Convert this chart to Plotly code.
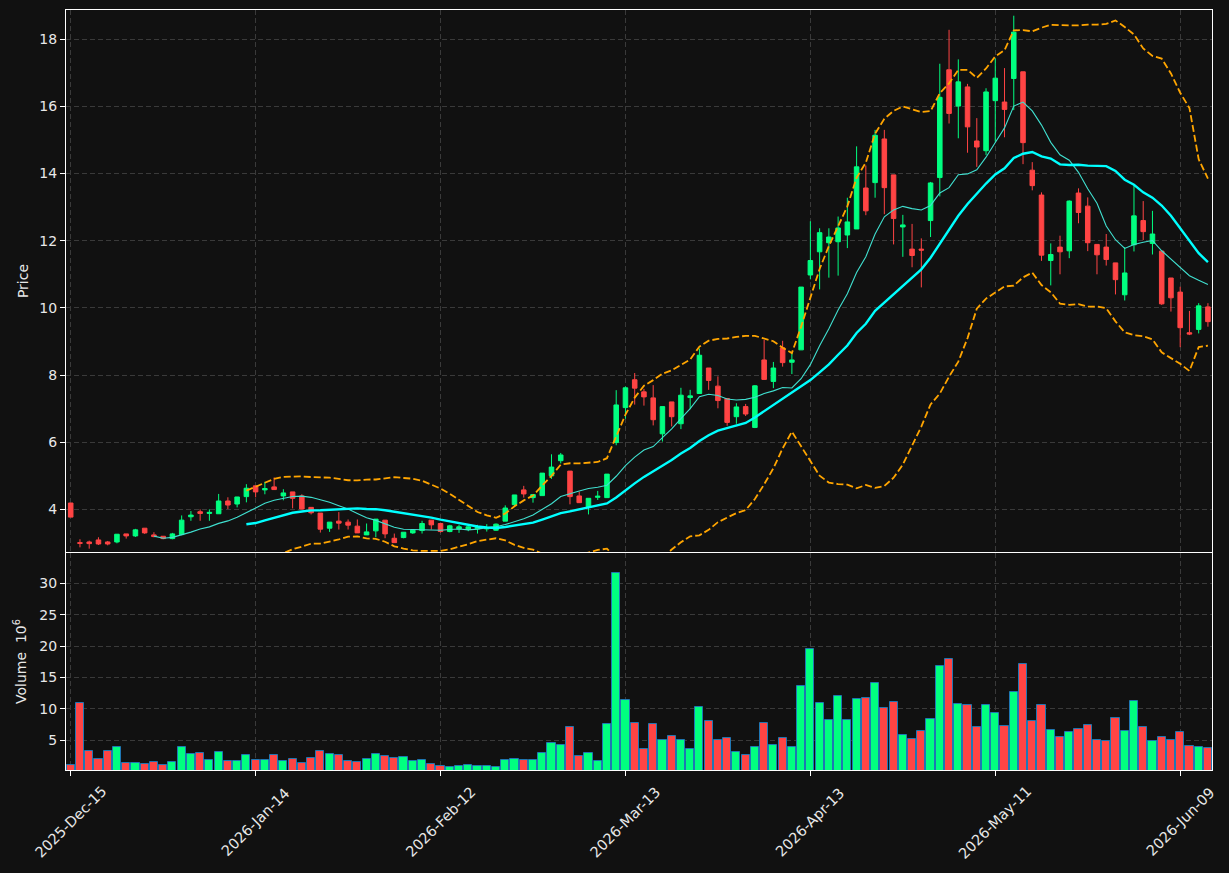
import plotly.graph_objects as go
from plotly.subplots import make_subplots
import pandas as pd

# ---- data ----
opens = [4.19, 3.01, 3.03, 3.09, 3.03, 3.03, 3.27, 3.21, 3.44, 3.24,
         3.20, 3.13, 3.25, 3.78, 3.93, 3.88, 3.87, 4.25, 4.16, 4.38,
         4.70, 4.58, 4.67, 4.40, 4.52, 4.40, 4.06, 3.89, 3.44, 3.65,
         3.62, 3.50, 3.24, 3.36, 3.68, 3.14, 3.16, 3.30, 3.37, 3.68,
         3.58, 3.34, 3.42, 3.40, 3.42, 3.42, 3.38, 3.65, 4.14, 4.58,
         4.35, 4.41, 5.00, 5.45, 5.14, 4.40, 4.08, 4.36, 4.35, 5.99,
         7.03, 7.86, 7.50, 7.32, 6.25, 7.20, 6.55, 7.33, 7.45, 8.21,
         7.67, 7.30, 6.76, 7.06, 6.44, 8.45, 7.81, 8.81, 8.38, 8.75,
         10.98, 11.67, 11.94, 11.97, 12.17, 12.35, 13.57, 13.73, 15.03, 13.96,
         12.41, 11.75, 11.75, 12.60, 13.88, 17.09, 16.01, 16.58, 14.97, 14.68,
         16.17, 16.13, 16.83, 17.03, 14.10, 13.36, 11.41, 11.81, 11.70, 13.42,
         13.03, 11.89, 11.81, 11.34, 10.39, 11.88, 12.60, 11.92, 11.69, 10.89,
         10.47, 9.26, 9.36, 10.03]
highs = [4.19, 3.11, 3.07, 3.17, 3.06, 3.26, 3.27, 3.42, 3.44, 3.32,
         3.20, 3.30, 3.82, 3.95, 4.00, 4.00, 4.46, 4.36, 4.37, 4.75,
         4.70, 4.82, 4.95, 4.60, 4.52, 4.45, 4.06, 3.89, 3.62, 3.92,
         3.70, 3.70, 3.58, 3.71, 3.68, 3.28, 3.32, 3.38, 3.66, 3.68,
         3.58, 3.54, 3.54, 3.56, 3.54, 3.56, 3.58, 4.12, 4.43, 4.70,
         4.44, 5.08, 5.64, 5.68, 5.14, 4.53, 4.33, 4.55, 5.05, 7.55,
         7.66, 8.06, 7.59, 7.70, 7.06, 7.20, 7.62, 7.56, 8.79, 8.21,
         7.96, 7.30, 7.16, 7.14, 7.70, 9.05, 8.39, 9.02, 8.67, 10.62,
         12.58, 12.37, 12.37, 12.72, 13.28, 14.81, 14.24, 15.30, 15.30, 13.96,
         12.77, 12.50, 12.07, 13.75, 17.27, 18.28, 17.40, 16.67, 15.65, 16.54,
         17.43, 17.14, 18.70, 17.03, 14.34, 13.44, 11.92, 12.15, 13.20, 13.56,
         13.29, 11.89, 12.20, 11.34, 11.81, 13.65, 13.18, 12.89, 11.69, 10.89,
         10.63, 9.91, 10.14, 10.14]
lows = [3.77, 2.87, 2.83, 2.94, 2.93, 2.99, 3.13, 3.18, 3.27, 3.17,
        3.11, 3.11, 3.23, 3.66, 3.66, 3.66, 3.87, 4.01, 4.06, 4.21,
        4.36, 4.45, 4.59, 4.27, 4.03, 4.00, 3.85, 3.31, 3.33, 3.40,
        3.40, 3.30, 3.24, 3.17, 3.14, 3.01, 3.14, 3.27, 3.28, 3.40,
        3.31, 3.32, 3.30, 3.35, 3.28, 3.34, 3.36, 3.65, 4.08, 4.35,
        4.20, 4.41, 4.91, 5.37, 4.15, 4.20, 3.85, 4.28, 4.35, 5.91,
        6.70, 7.12, 7.09, 6.50, 6.02, 6.47, 6.39, 6.98, 7.45, 7.56,
        7.01, 6.49, 6.55, 6.78, 6.42, 7.87, 7.61, 8.25, 8.03, 8.75,
        10.85, 10.55, 10.90, 10.96, 11.78, 12.35, 12.76, 13.28, 12.79, 11.89,
        11.52, 11.21, 10.61, 12.11, 13.32, 15.49, 15.05, 14.62, 14.20, 14.55,
        14.95, 15.08, 15.89, 14.28, 13.50, 11.40, 10.67, 11.00, 11.48, 12.52,
        11.69, 11.00, 11.26, 10.40, 10.22, 11.68, 12.02, 11.59, 10.09, 9.89,
        8.83, 9.19, 9.24, 9.44]
closes = [3.77, 2.99, 2.98, 2.97, 2.97, 3.26, 3.21, 3.39, 3.30, 3.19,
          3.13, 3.27, 3.68, 3.83, 3.88, 3.91, 4.25, 4.13, 4.37, 4.63,
          4.52, 4.62, 4.59, 4.49, 4.33, 4.01, 3.90, 3.41, 3.62, 3.59,
          3.53, 3.30, 3.33, 3.71, 3.27, 3.01, 3.32, 3.38, 3.58, 3.54,
          3.34, 3.51, 3.48, 3.48, 3.48, 3.46, 3.56, 4.04, 4.43, 4.46,
          4.44, 5.08, 5.26, 5.62, 4.38, 4.20, 4.33, 4.39, 5.05, 7.11,
          7.62, 7.61, 7.35, 6.67, 7.06, 6.76, 7.40, 7.38, 8.59, 7.84,
          7.24, 6.59, 7.05, 6.84, 7.68, 7.87, 8.21, 8.37, 8.45, 10.62,
          11.41, 12.24, 12.11, 12.38, 12.56, 14.20, 12.89, 15.14, 13.58, 12.66,
          12.47, 11.56, 11.72, 13.72, 16.27, 15.79, 16.73, 15.39, 14.79, 16.43,
          16.84, 15.91, 18.21, 14.92, 13.64, 11.57, 11.59, 11.67, 13.18, 12.84,
          11.94, 11.58, 11.44, 10.84, 11.04, 12.74, 12.27, 12.20, 10.12, 10.30,
          9.41, 9.22, 10.06, 9.59]
volumes = [1.0, 11.0, 3.25, 1.97, 3.25, 3.98, 1.34, 1.34, 1.18, 1.5,
           1.0, 1.5, 3.98, 2.77, 2.93, 1.82, 3.09, 1.66, 1.66, 2.61,
           1.82, 1.82, 2.61, 1.66, 1.97, 1.34, 2.13, 3.25, 2.77, 2.61,
           1.66, 1.5, 1.97, 2.77, 2.45, 2.13, 2.29, 1.66, 1.82, 1.18,
           0.86, 0.70, 0.86, 1.0, 0.86, 0.86, 0.70, 1.82, 1.97, 1.82,
           1.82, 2.93, 4.57, 4.25, 7.07, 2.45, 2.93, 1.66, 7.55, 31.6,
           11.37, 7.7, 3.57, 7.55, 5.0, 5.64, 5.0, 3.57, 10.25, 8.03,
           5.0, 5.32, 3.09, 2.61, 3.89, 7.7, 4.2, 5.32, 3.89, 13.6,
           19.5, 10.9, 8.18, 12.0, 8.18, 11.5, 11.7, 14.2, 10.1, 11.05,
           5.8, 5.16, 6.43, 8.34, 16.8, 17.9, 10.73, 10.57, 7.07, 10.57,
           9.3, 7.23, 12.64, 17.1, 8.03, 10.57, 6.59, 5.48, 6.27, 6.75,
           7.39, 5.0, 4.84, 8.5, 6.43, 11.2, 7.07, 4.84, 5.48, 5.0,
           6.27, 4.04, 3.89, 3.73]
tick_index = [0, 20, 40, 60, 80, 100, 120]
tick_labels = ["2025-Dec-15", "2026-Jan-14", "2026-Feb-12", "2026-Mar-13",
               "2026-Apr-13", "2026-May-11", "2026-Jun-09"]

# ---- style ----
BG = "#111111"
GREEN = "#00ff80"
RED = "#ff4444"
GRID = "#3a3a3a"
TXT = "#e8e8e8"
FONT = "DejaVu Sans"

x = list(range(len(closes)))
cs = pd.Series(closes)
ma10 = cs.rolling(10).mean()
ma20 = cs.rolling(20).mean()
sd20 = cs.rolling(20).std(ddof=0)
bb_up = ma20 + 2 * sd20
bb_lo = ma20 - 2 * sd20

vol_colors = [GREEN if c >= o else RED for o, c in zip(opens, closes)]

fig = make_subplots(rows=2, cols=1, shared_xaxes=True, vertical_spacing=0.0)

fig.add_trace(go.Candlestick(
    x=x, open=opens, high=highs, low=lows, close=closes,
    increasing=dict(line=dict(color=GREEN, width=1), fillcolor=GREEN),
    decreasing=dict(line=dict(color=RED, width=1), fillcolor=RED),
    whiskerwidth=0, showlegend=False, name="OHLC"), row=1, col=1)

fig.add_trace(go.Scatter(x=x, y=ma10, mode="lines",
                         line=dict(color="#40e0d0", width=1.1),
                         showlegend=False, name="MA10"), row=1, col=1)
fig.add_trace(go.Scatter(x=x, y=ma20, mode="lines",
                         line=dict(color="#00ffff", width=2.4),
                         showlegend=False, name="MA20"), row=1, col=1)
for band, nm in ((bb_up, "BB upper"), (bb_lo, "BB lower")):
    fig.add_trace(go.Scatter(x=x, y=band, mode="lines",
                             line=dict(color="#ffa500", width=1.8, dash="7px,3px"),
                             showlegend=False, name=nm), row=1, col=1)

fig.add_trace(go.Bar(x=x, y=volumes, width=0.88,
                     marker=dict(color=vol_colors, line=dict(color="#1f77b4", width=1)),
                     showlegend=False, name="Volume"), row=2, col=1)

axis_common = dict(showline=True, linecolor="white", linewidth=1, mirror=True,
                   showgrid=True, gridcolor=GRID, griddash="5px,3px", gridwidth=1,
                   zeroline=False, tickcolor="white", ticklen=5, automargin=False,
                   tickfont=dict(color=TXT, size=14, family=FONT))

fig.update_xaxes(**axis_common, range=[-0.51, 123.44],
                 tickmode="array", tickvals=tick_index, ticktext=tick_labels,
                 showticklabels=False)
fig.update_xaxes(rangeslider=dict(visible=False), ticks="", row=1, col=1)
fig.update_xaxes(ticks="outside", row=2, col=1)
fig.update_yaxes(**axis_common, ticks="outside")
fig.update_yaxes(range=[2.73, 18.87], tickvals=[4, 6, 8, 10, 12, 14, 16, 18],
                 domain=[0.2868, 1.0],
                 title=dict(text="Price", font=dict(color=TXT, size=14, family=FONT),
                            standoff=7),
                 row=1, col=1)
fig.update_yaxes(range=[0.27, 34.82], tickvals=[5, 10, 15, 20, 25, 30],
                 domain=[0.0, 0.2855],
                 title=dict(text="Volume  10<sup>6</sup>",
                            font=dict(color=TXT, size=14, family=FONT),
                            standoff=9),
                 row=2, col=1)

# date labels rotated about their centre (as in the reference)
for ti, tl in zip(tick_index, tick_labels):
    fig.add_annotation(x=ti, y=-0.0684, xref="x2", yref="paper", text=tl,
                       textangle=-45, showarrow=False, xanchor="center",
                       yanchor="middle",
                       font=dict(color=TXT, size=14.5, family=FONT))

fig.update_layout(
    width=1229, height=873,
    paper_bgcolor=BG, plot_bgcolor=BG,
    margin=dict(l=66, r=17, t=10, b=103),
    font=dict(family=FONT, color=TXT, size=14),
    bargap=0.0, showlegend=False,
)

fig.write_html("out.html")
